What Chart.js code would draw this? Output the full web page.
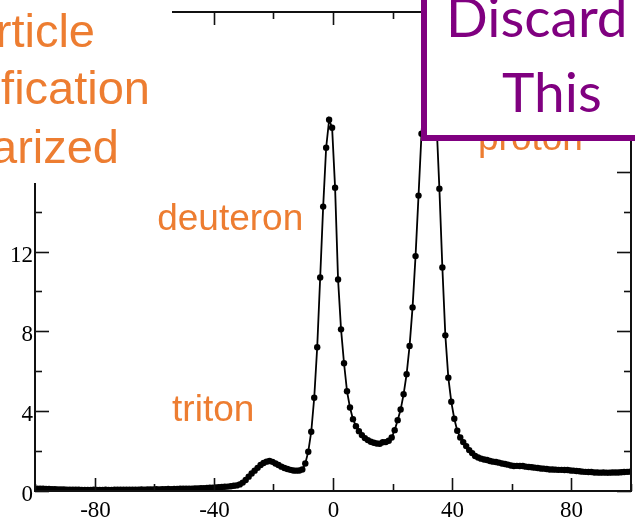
<!DOCTYPE html>
<html lang="en">
<head>
  <meta charset="UTF-8" />
  <title>Particle Identification Linearized</title>
  <script src="https://cdn.jsdelivr.net/npm/chart.js"></script>
  <style>
    html, body {
      margin: 0;
      padding: 0;
      background: #fff;
    }
    #wrap {
      width: 635px;
      height: 517px;
      overflow: hidden;
    }
  </style>
</head>
<body>
  <div id="wrap"><canvas id="pidChart" width="635" height="517"></canvas></div>

  <script>
    // linearized PID variable (bin centres)
    const xVals = [
      -99.3, -98.3, -97.3, -96.3, -95.3, -94.3, -93.3, -92.3, -91.3, -90.3,
      -89.3, -88.3, -87.3, -86.3, -85.3, -84.3, -83.3, -82.3, -81.3, -80.3,
      -79.3, -78.3, -77.3, -76.3, -75.3, -74.3, -73.3, -72.3, -71.3, -70.3,
      -69.3, -68.3, -67.3, -66.3, -65.3, -64.3, -63.3, -62.3, -61.3, -60.3,
      -59.3, -58.3, -57.3, -56.3, -55.3, -54.3, -53.3, -52.3, -51.3, -50.3,
      -49.3, -48.3, -47.3, -46.3, -45.3, -44.3, -43.3, -42.3, -41.3, -40.3,
      -39.3, -38.3, -37.3, -36.3, -35.3, -34.3, -33.3, -32.3, -31.3, -30.3,
      -29.3, -28.3, -27.3, -26.3, -25.3, -24.3, -23.3, -22.3, -21.3, -20.3,
      -19.3, -18.3, -17.3, -16.3, -15.3, -14.3, -13.3, -12.3, -11.3, -10.3,
      -9.3, -8.3, -7.3, -6.3, -5.3, -4.3, -3.3, -2.3, -1.3, -0.3,
      0.7, 1.7, 2.7, 3.7, 4.7, 5.7, 6.7, 7.7, 8.7, 9.7,
      10.7, 11.7, 12.7, 13.7, 14.7, 15.7, 16.7, 17.7, 18.7, 19.7,
      20.7, 21.7, 22.7, 23.7, 24.7, 25.7, 26.7, 27.7, 28.7, 29.7,
      30.7, 31.7, 32.7, 33.7, 34.7, 35.7, 36.7, 37.7, 38.7, 39.7,
      40.7, 41.7, 42.7, 43.7, 44.7, 45.7, 46.7, 47.7, 48.7, 49.7,
      50.7, 51.7, 52.7, 53.7, 54.7, 55.7, 56.7, 57.7, 58.7, 59.7,
      60.7, 61.7, 62.7, 63.7, 64.7, 65.7, 66.7, 67.7, 68.7, 69.7,
      70.7, 71.7, 72.7, 73.7, 74.7, 75.7, 76.7, 77.7, 78.7, 79.7,
      80.7, 81.7, 82.7, 83.7, 84.7, 85.7, 86.7, 87.7, 88.7, 89.7,
      90.7, 91.7, 92.7, 93.7, 94.7, 95.7, 96.7, 97.7, 98.7, 99.7
    ];

    // counts per bin
    const counts = [
      0.12, 0.11, 0.11, 0.10, 0.10, 0.09, 0.09, 0.08, 0.08, 0.08,
      0.07, 0.07, 0.06, 0.06, 0.06, 0.05, 0.05, 0.05, 0.05, 0.06,
      0.05, 0.05, 0.05, 0.06, 0.05, 0.05, 0.06, 0.06, 0.06, 0.06,
      0.07, 0.06, 0.07, 0.07, 0.07, 0.08, 0.07, 0.08, 0.08, 0.08,
      0.09, 0.08, 0.09, 0.09, 0.10, 0.09, 0.10, 0.10, 0.11, 0.11,
      0.11, 0.12, 0.12, 0.13, 0.13, 0.14, 0.14, 0.15, 0.16, 0.17,
      0.18, 0.19, 0.20, 0.21, 0.22, 0.24, 0.26, 0.28, 0.33, 0.42,
      0.55, 0.72, 0.88, 1.02, 1.16, 1.30, 1.40, 1.47, 1.50, 1.46,
      1.38, 1.30, 1.22, 1.15, 1.10, 1.06, 1.03, 1.02, 1.03, 1.08,
      1.38, 1.97, 2.97, 4.67, 7.20, 10.70, 14.25, 17.20, 18.60, 18.20,
      15.20, 10.60, 8.10, 6.40, 5.00, 4.18, 3.60, 3.25, 3.00, 2.80,
      2.65, 2.55, 2.47, 2.42, 2.38, 2.37, 2.44, 2.45, 2.52, 2.68,
      3.05, 3.55, 4.08, 4.85, 5.85, 7.27, 9.20, 11.77, 14.80, 17.90,
      20.30, 21.60, 21.90, 21.00, 18.60, 15.15, 11.20, 7.80, 5.68, 4.47,
      3.62, 3.02, 2.68, 2.45, 2.25, 2.05, 1.90, 1.75, 1.68, 1.62,
      1.58, 1.55, 1.50, 1.47, 1.45, 1.42, 1.38, 1.35, 1.32, 1.28,
      1.25, 1.26, 1.25, 1.25, 1.22, 1.20, 1.19, 1.17, 1.15, 1.13,
      1.12, 1.10, 1.08, 1.08, 1.07, 1.06, 1.06, 1.05, 1.05, 1.03,
      1.02, 1.00, 0.99, 0.97, 0.96, 0.95, 0.95, 0.93, 0.93, 0.92,
      0.93, 0.92, 0.92, 0.93, 0.93, 0.93, 0.94, 0.95, 0.96, 0.97
    ];

    const xTickLabels = [-80, -40, 0, 40, 80];
    const yTickLabels = [0, 4, 8, 12, 16, 20, 24];

    const titleLines = ["Particle", "Identification", "Linearized"];
    const stampLines = ["Discard", "This"];
    const peakNames = ["triton", "deuteron", "proton"];

    const ORANGE = "#ED7D31";
    const PURPLE = "#800080";
    const TICK_FONT = "23px 'Liberation Serif', 'Times New Roman', serif";

    // axis frame with inward ticks on all four sides, labels bottom/left
    const frame = {
      id: "frame",
      afterDatasetsDraw(chart) {
        const { ctx, chartArea: a, scales: { x, y } } = chart;
        const seg = (x0, y0, x1, y1) => {
          ctx.beginPath();
          ctx.moveTo(x0, y0);
          ctx.lineTo(x1, y1);
          ctx.stroke();
        };
        ctx.save();
        ctx.strokeStyle = "#111";
        ctx.lineWidth = 2;
        ctx.strokeRect(a.left, a.top, a.right - a.left, a.bottom - a.top);
        ctx.lineWidth = 1.6;
        ctx.fillStyle = "#000";
        ctx.font = TICK_FONT;
        ctx.textBaseline = "alphabetic";

        ctx.textAlign = "center";
        x.ticks.forEach(t => {
          const px = Math.round(x.getPixelForValue(t.value)) + 0.5;
          const major = xTickLabels.includes(t.value);
          const len = major ? 13 : 7;
          seg(px, a.bottom, px, a.bottom - len);
          seg(px, a.top, px, a.top + len);
          if (major) ctx.fillText(String(t.value), px, a.bottom + 25.5);
        });

        ctx.textAlign = "right";
        y.ticks.forEach(t => {
          const py = Math.round(y.getPixelForValue(t.value)) + 0.5;
          const major = yTickLabels.includes(t.value);
          const len = major ? 14 : 7;
          seg(a.left, py, a.left + len, py);
          seg(a.right, py, a.right - len, py);
          if (major) ctx.fillText(String(t.value), a.left - 2, py + 9);
        });
        ctx.restore();
      }
    };

    // slide text laid over the plot
    const overlay = {
      id: "overlay",
      afterDraw(chart) {
        const { ctx, scales: { x, y } } = chart;
        ctx.save();

        ctx.fillStyle = ORANGE;
        ctx.font = "37px 'Liberation Sans', Arial, sans-serif";
        ctx.textAlign = "left";
        ctx.textBaseline = "alphabetic";
        ctx.fillText(peakNames[0], x.getPixelForValue(-54), y.getPixelForValue(3.5));
        ctx.fillText(peakNames[1], x.getPixelForValue(-59), y.getPixelForValue(13.1));
        ctx.fillText(peakNames[2], 478, 150);

        // title block, cut at the left edge
        ctx.fillStyle = "#fff";
        ctx.fillRect(0, 0, 172, 183);
        ctx.fillStyle = ORANGE;
        ctx.font = "47px 'Liberation Sans', Arial, sans-serif";
        ctx.textAlign = "right";
        ctx.fillText(titleLines[0], 95, 47);
        ctx.fillText(titleLines[1], 150, 104);
        ctx.fillText(titleLines[2], 119, 163);

        // stamp box
        ctx.fillStyle = "#fff";
        ctx.fillRect(424, -10, 230, 148);
        ctx.strokeStyle = PURPLE;
        ctx.lineWidth = 6;
        ctx.strokeRect(424, -10, 230, 148);
        ctx.fillStyle = PURPLE;
        ctx.font = "55px Lato, 'Liberation Sans', sans-serif";
        ctx.textAlign = "left";
        ctx.fillText(stampLines[0], 446, 37);
        ctx.fillText(stampLines[1], 502, 112);

        ctx.restore();
      }
    };

    new Chart(document.getElementById("pidChart"), {
      type: "line",
      data: {
        datasets: [{
          data: xVals.map((v, i) => ({ x: v, y: counts[i] })),
          borderColor: "#000",
          borderWidth: 1.8,
          pointRadius: 3.2,
          pointBackgroundColor: "#000",
          pointBorderColor: "#000",
          pointBorderWidth: 0,
          tension: 0,
          fill: false
        }]
      },
      options: {
        responsive: false,
        animation: false,
        layout: { padding: { top: 12, right: 1, left: 0, bottom: 0 } },
        plugins: {
          legend: { display: false },
          tooltip: { enabled: false }
        },
        scales: {
          x: {
            type: "linear",
            min: -100,
            max: 100,
            grid: { display: false },
            border: { display: false },
            ticks: { stepSize: 20, display: false },
            afterFit: s => { s.height = 26; }
          },
          y: {
            min: 0,
            max: 24,
            grid: { display: false },
            border: { display: false },
            ticks: { stepSize: 2, display: false },
            afterFit: s => { s.width = 35; }
          }
        }
      },
      plugins: [frame, overlay]
    });
  </script>
</body>
</html>
